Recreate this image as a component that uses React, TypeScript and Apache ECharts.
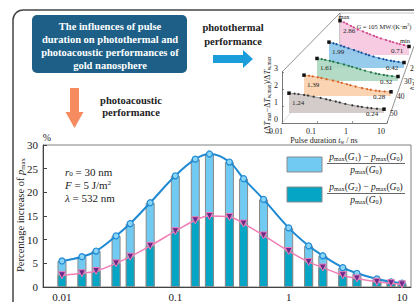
import React, { useEffect, useRef } from 'react';
import * as echarts from 'echarts';

// ---------- main chart data ----------
const pulseDurations = [0.01, 0.015, 0.02, 0.03, 0.04, 0.06, 0.1, 0.15, 0.2, 0.3, 0.4, 0.6, 1, 1.5, 2, 3, 4, 6, 8, 10];
const increaseG1 = [5.5, 6.4, 7.6, 10.8, 13.4, 17.8, 23.5, 27.0, 28.1, 26.4, 22.9, 18.5, 12.5, 8.7, 6.6, 4.1, 2.9, 1.7, 1.1, 0.8];
const increaseG2 = [2.5, 2.9, 3.4, 5.0, 6.4, 8.7, 11.8, 14.1, 15.0, 14.8, 13.4, 10.9, 7.6, 5.3, 4.1, 2.5, 1.8, 1.1, 0.8, 0.55];
const xTickLabels = ['0.01', '0.1', '1', '10'];
const yTickLabels = ['0', '5', '10', '15', '20', '25', '30'];

// ---------- inset (photothermal) data ----------
const insetDurations = [0.01, 0.015, 0.02, 0.03, 0.04, 0.06, 0.1, 0.15, 0.2, 0.3, 0.4, 0.6, 1, 1.5, 2, 3, 4, 6, 10];
const insetLayerNames = ['10', '20', '30', '40', '50'];
const insetG10 = [2.86, 2.72, 2.6, 2.42, 2.3, 2.12, 1.96, 1.82, 1.72, 1.6, 1.5, 1.38, 1.25, 1.14, 1.07, 0.97, 0.91, 0.83, 0.71];
const insetG20 = [1.99, 1.9, 1.83, 1.72, 1.64, 1.52, 1.38, 1.26, 1.18, 1.06, 0.98, 0.88, 0.76, 0.68, 0.62, 0.56, 0.52, 0.47, 0.42];
const insetG30 = [1.61, 1.56, 1.51, 1.44, 1.38, 1.29, 1.18, 1.08, 1.01, 0.91, 0.84, 0.74, 0.62, 0.54, 0.49, 0.43, 0.39, 0.35, 0.32];
const insetG40 = [1.39, 1.35, 1.31, 1.25, 1.2, 1.12, 1.03, 0.95, 0.88, 0.79, 0.72, 0.63, 0.53, 0.46, 0.42, 0.36, 0.33, 0.3, 0.28];
const insetG50 = [1.24, 1.21, 1.18, 1.13, 1.09, 1.02, 0.94, 0.86, 0.8, 0.72, 0.66, 0.57, 0.48, 0.42, 0.38, 0.33, 0.3, 0.27, 0.24];
const insetMaxLabels = ['2.86', '1.99', '1.61', '1.39', '1.24'];
const insetMinLabels = ['0.71', '0.42', '0.32', '0.28', '0.24'];
const insetZTicks = ['0', '1', '2', '3'];

const insetValues = [insetG10, insetG20, insetG30, insetG40, insetG50];

// layout / style of the pseudo-3D layers (back to front)
const LAYERS = [
  { left: 340, right: 409, base: 55, scale: 12, fill: '#f6c7df', line: '#e0609f', dot: '#d04a8c' },
  { left: 329, right: 404, base: 68, scale: 13, fill: '#8cc6ea', line: '#1b6fbf', dot: '#10509e' },
  { left: 317, right: 398, base: 81, scale: 14, fill: '#acd7c0', line: '#2e8a5a', dot: '#1e7444' },
  { left: 304, right: 391, base: 96, scale: 15, fill: '#f9cfab', line: '#e67c3c', dot: '#d8601e' },
  { left: 289, right: 384, base: 113, scale: 16, fill: '#cec6c4', line: '#555555', dot: '#333333' },
];

const SERIF = "'Liberation Serif', 'DejaVu Serif', serif";

function rich(size: number, color = '#222') {
  return {
    n: { fontSize: size, fontFamily: SERIF, fill: color, color },
    i: { fontSize: size, fontFamily: SERIF, fontStyle: 'italic', fill: color, color },
    s: { fontSize: size * 0.65, fontFamily: SERIF, fill: color, color, verticalAlign: 'bottom' },
    sup: { fontSize: size * 0.65, fontFamily: SERIF, fill: color, color, verticalAlign: 'top' },
  };
}

function richText(x: number, y: number, text: string, size: number, extra: any = {}) {
  return {
    type: 'text',
    x,
    y,
    z: 20,
    rotation: extra.rotation || 0,
    style: {
      text,
      rich: rich(size, '#222'),
      align: extra.align || 'center',
      verticalAlign: 'middle',
      fontSize: size,
      fontFamily: SERIF,
      fill: '#222',
    },
  };
}

function plainText(x: number, y: number, text: string, size: number, opts: any = {}) {
  return {
    type: 'text',
    x,
    y,
    z: 20,
    rotation: opts.rotation || 0,
    style: {
      text,
      fontSize: size,
      fontFamily: SERIF,
      fontWeight: opts.bold ? 'bold' : 'normal',
      fill: opts.color || '#222',
      align: opts.align || 'center',
      verticalAlign: 'middle',
      lineHeight: opts.lineHeight,
    },
  };
}

export default function App() {
  const ref = useRef<HTMLDivElement>(null);

  useEffect(() => {
    if (!ref.current) return;
    const chart = echarts.init(ref.current, null, { renderer: 'svg' });

    const logLabel = (v: number) => {
      const idx = Math.round(Math.log10(v)) + 2;
      return xTickLabels[idx] ?? '';
    };

    const grids: any[] = [{ left: 43, top: 145, width: 368, height: 143, show: true, borderColor: '#808080', borderWidth: 1 }];
    const xAxes: any[] = [
      {
        type: 'log',
        gridIndex: 0,
        logBase: 10,
        min: 0.0068,
        max: 12,
        axisLine: { show: true, lineStyle: { color: '#444', width: 1 } },
        axisTick: { show: true, inside: true, length: 4, lineStyle: { color: '#444' } },
        axisLabel: { showMinLabel: false, showMaxLabel: false, formatter: logLabel, fontSize: 11, fontFamily: SERIF, color: '#222', margin: 4 },
        splitLine: { show: false },
      },
    ];
    const yAxes: any[] = [
      {
        type: 'value',
        gridIndex: 0,
        min: 0,
        max: 30,
        interval: 5,
        axisLine: { show: true, lineStyle: { color: '#444', width: 1 } },
        axisTick: { show: true, inside: true, length: 4, lineStyle: { color: '#444' } },
        axisLabel: { formatter: (v: number) => yTickLabels[Math.round(v / 5)], fontSize: 11, fontFamily: SERIF, color: '#222', margin: 5 },
        splitLine: { show: false },
      },
    ];

    LAYERS.forEach((L) => {
      grids.push({ left: L.left, top: L.base - 3 * L.scale, width: L.right - L.left, height: 3 * L.scale });
      xAxes.push({ type: 'log', gridIndex: grids.length - 1, min: 0.01, max: 10, show: false });
      yAxes.push({ type: 'value', gridIndex: grids.length - 1, min: 0, max: 3, show: false });
    });

    // front frame of the inset
    grids.push({ left: 282, top: 72, width: 105, height: 51 });
    const frameIdx = grids.length - 1;
    xAxes.push({
      type: 'log',
      gridIndex: frameIdx,
      min: 0.01,
      max: 10,
      axisLine: { show: true, lineStyle: { color: '#555', width: 0.8 } },
      axisTick: { show: true, inside: true, length: 2, lineStyle: { color: '#555', width: 0.6 } },
      axisLabel: { formatter: logLabel, fontSize: 8, fontFamily: SERIF, color: '#222', margin: 4, padding: [0, 12, 0, 0] },
      splitLine: { show: false },
    });
    yAxes.push({
      type: 'value',
      gridIndex: frameIdx,
      min: 0,
      max: 3,
      interval: 1,
      axisLine: { show: true, lineStyle: { color: '#555', width: 0.8 } },
      axisTick: { show: true, inside: true, length: 2, lineStyle: { color: '#555', width: 0.6 } },
      axisLabel: { formatter: (v: number) => insetZTicks[v] ?? '', fontSize: 8, fontFamily: SERIF, color: '#222', margin: 4, verticalAlign: 'bottom' },
      splitLine: { show: false },
    });

    const series: any[] = [
      {
        type: 'bar',
        name: 'G1',
        xAxisIndex: 0,
        yAxisIndex: 0,
        data: pulseDurations.map((t, i) => [t, increaseG1[i]]),
        barWidth: 9,
        barGap: '-100%',
        itemStyle: { color: '#70caf1', borderColor: '#8a8a8a', borderWidth: 1 },
        z: 2,
      },
      {
        type: 'bar',
        name: 'G2',
        xAxisIndex: 0,
        yAxisIndex: 0,
        data: pulseDurations.map((t, i) => [t, increaseG2[i]]),
        barWidth: 9,
        barGap: '-100%',
        itemStyle: { color: '#05a6c5', borderColor: '#8a8a8a', borderWidth: 1 },
        z: 3,
      },
      {
        type: 'line',
        name: 'G1 curve',
        xAxisIndex: 0,
        yAxisIndex: 0,
        data: pulseDurations.map((t, i) => [t, increaseG1[i]]),
        smooth: 0.4,
        symbol: 'circle',
        symbolSize: 6,
        lineStyle: { color: '#1f8ad3', width: 2 },
        itemStyle: { color: '#8ad5f6', borderColor: '#1f8ad3', borderWidth: 1.2 },
        z: 5,
      },
      {
        type: 'line',
        name: 'G2 curve',
        xAxisIndex: 0,
        yAxisIndex: 0,
        data: pulseDurations.map((t, i) => [t, increaseG2[i]]),
        smooth: 0.4,
        symbol: 'triangle',
        symbolRotate: 180,
        symbolSize: 7,
        lineStyle: { color: '#f07db6', width: 1.5 },
        itemStyle: { color: '#6a2a8a', borderColor: '#f07db6', borderWidth: 1 },
        z: 6,
      },
    ];

    LAYERS.forEach((L, i) => {
      const vals = insetValues[i];
      const last = vals.length - 1;
      series.push({
        type: 'line',
        name: 'layer ' + insetLayerNames[i],
        xAxisIndex: i + 1,
        yAxisIndex: i + 1,
        smooth: 0.3,
        symbol: 'circle',
        symbolSize: 2.2,
        lineStyle: { color: L.line, width: 0.6 },
        itemStyle: { color: L.dot },
        areaStyle: { color: L.fill, opacity: 0.9 },
        z: 2,
        data: insetDurations.map((t, j) => {
          const v = vals[j];
          if (j === 0 || j === last) {
            return {
              value: [t, v],
              symbol: 'rect',
              symbolSize: 3.5,
              itemStyle: { color: '#111' },
              label: {
                show: true,
                formatter: j === 0 ? insetMaxLabels[i] : insetMinLabels[i],
                position: 'inside',
                offset: j === 0 ? [9, 10] : [-12, 5],
                fontSize: 7,
                fontFamily: SERIF,
                color: '#222',
              },
            };
          }
          return [t, v];
        }),
      });
    });

    const pink = LAYERS[0];
    const graphics: any[] = [
      // outer frame
      {
        type: 'rect',
        shape: { x: 13, y: 10, width: 420, height: 320, r: [10, 0, 0, 0] },
        style: { fill: null, stroke: '#444', lineWidth: 1.5 },
        z: 1,
      },
      // title box
      {
        type: 'rect',
        shape: { x: 32, y: 15, width: 155, height: 58, r: 5 },
        style: { fill: '#1d5f87' },
        z: 10,
      },
      plainText(110, 45.5, 'The influences of pulse\nduration on photothermal and\nphotoacoustic performances of\ngold nanosphere', 10.5, {
        bold: true,
        color: '#ffffff',
        lineHeight: 13,
      }),
      // orange arrow
      {
        type: 'polygon',
        shape: { points: [[70, 88], [79, 88], [79, 112], [83.5, 112], [74.5, 128], [65.5, 112], [70, 112]] },
        style: { fill: '#f58b5e' },
        z: 10,
      },
      plainText(131, 106, 'photoacoustic\nperformance', 10.5, { bold: true, lineHeight: 12 }),
      // blue arrow
      {
        type: 'polygon',
        shape: { points: [[213, 55], [243, 55], [243, 50], [253, 59], [243, 68], [243, 63], [213, 63]] },
        style: { fill: '#1b9ddc' },
        z: 10,
      },
      plainText(233, 34, 'photothermal\nperformance', 10.5, { bold: true, lineHeight: 14 }),

      // main chart annotations
      richText(20, 215, 'Percentage increase of {i|p}{s|max}', 10.5, { rotation: Math.PI / 2 }),
      plainText(47, 137, '%', 10),
      richText(236, 305, 'Pulse duration {i|t}{s|w} / ns', 11),
      richText(65, 172, '{i|r}{s|0}{n| = 30 nm}', 11, { align: 'left' }),
      richText(65, 185, '{i|F}{n| = 5 J/m}{sup|2}', 11, { align: 'left' }),
      richText(65, 198, '{i|λ}{n| = 532 nm}', 11, { align: 'left' }),

      // legend swatches
      { type: 'rect', shape: { x: 287, y: 157, width: 35, height: 15 }, style: { fill: '#70caf1', stroke: '#8a8a8a', lineWidth: 1 }, z: 20 },
      { type: 'rect', shape: { x: 287, y: 187, width: 35, height: 15 }, style: { fill: '#05a6c5', stroke: '#8a8a8a', lineWidth: 1 }, z: 20 },
      richText(366, 157, '{i|p}{s|max}{n|(}{i|G}{s|1}{n|) − }{i|p}{s|max}{n|(}{i|G}{s|0}{n|)}', 9.5),
      { type: 'line', shape: { x1: 327, y1: 163.5, x2: 405, y2: 163.5 }, style: { stroke: '#222', lineWidth: 0.7 }, z: 20 },
      richText(366, 170, '{i|p}{s|max}{n|(}{i|G}{s|0}{n|)}', 9.5),
      richText(366, 187, '{i|p}{s|max}{n|(}{i|G}{s|2}{n|) − }{i|p}{s|max}{n|(}{i|G}{s|0}{n|)}', 9.5),
      { type: 'line', shape: { x1: 327, y1: 193.5, x2: 405, y2: 193.5 }, style: { stroke: '#222', lineWidth: 0.7 }, z: 20 },
      richText(366, 200, '{i|p}{s|max}{n|(}{i|G}{s|0}{n|)}', 9.5),

      // inset frame lines
      { type: 'line', shape: { x1: 282, y1: 72, x2: 340, y2: 13 }, style: { stroke: '#666', lineWidth: 0.7 }, z: 1 },
      { type: 'line', shape: { x1: 340, y1: 13, x2: 340, y2: pink.base }, style: { stroke: '#666', lineWidth: 0.7 }, z: 1 },
      { type: 'line', shape: { x1: 282, y1: 123, x2: 340, y2: pink.base }, style: { stroke: '#bbb', lineWidth: 0.5 }, z: 1 },
      { type: 'line', shape: { x1: 387, y1: 123, x2: 414, y2: 46 }, style: { stroke: '#666', lineWidth: 0.7 }, z: 1 },
      { type: 'line', shape: { x1: 340, y1: 13, x2: 414, y2: 13 }, style: { stroke: '#888', lineWidth: 0.5 }, z: 1 },

      // inset texts
      plainText(344, 16, 'max', 6.5),
      plainText(405, 40, 'min', 6.5),
      richText(384, 26, '{i|G}{n| = 105 MW/(K·m}{sup|2}{n|)}', 6.5),
      richText(267, 95, '{n|(Δ}{i|T}{s|max}{n|−Δ}{i|T}{s|w,max}{n|)/Δ}{i|T}{s|w,max}', 8, { rotation: Math.PI / 2 }),
      richText(324, 140, 'Pulse duration {i|t}{s|w} / ns', 8),
      richText(412, 84, '{i|h}{s|int} /', 7, { rotation: Math.PI / 2 }),
    ];

    LAYERS.forEach((L, i) => {
      graphics.push(plainText(L.right + 6, L.base, insetLayerNames[i], 7.5, { align: 'left' }));
    });

    chart.setOption({
      animation: false,
      backgroundColor: '#ffffff',
      grid: grids,
      xAxis: xAxes,
      yAxis: yAxes,
      series,
      graphic: { elements: graphics },
    });

    return () => chart.dispose();
  }, []);

  return <div ref={ref} style={{ position: 'fixed', left: 0, top: 0, width: 414, height: 302, background: '#fff' }} />;
}
